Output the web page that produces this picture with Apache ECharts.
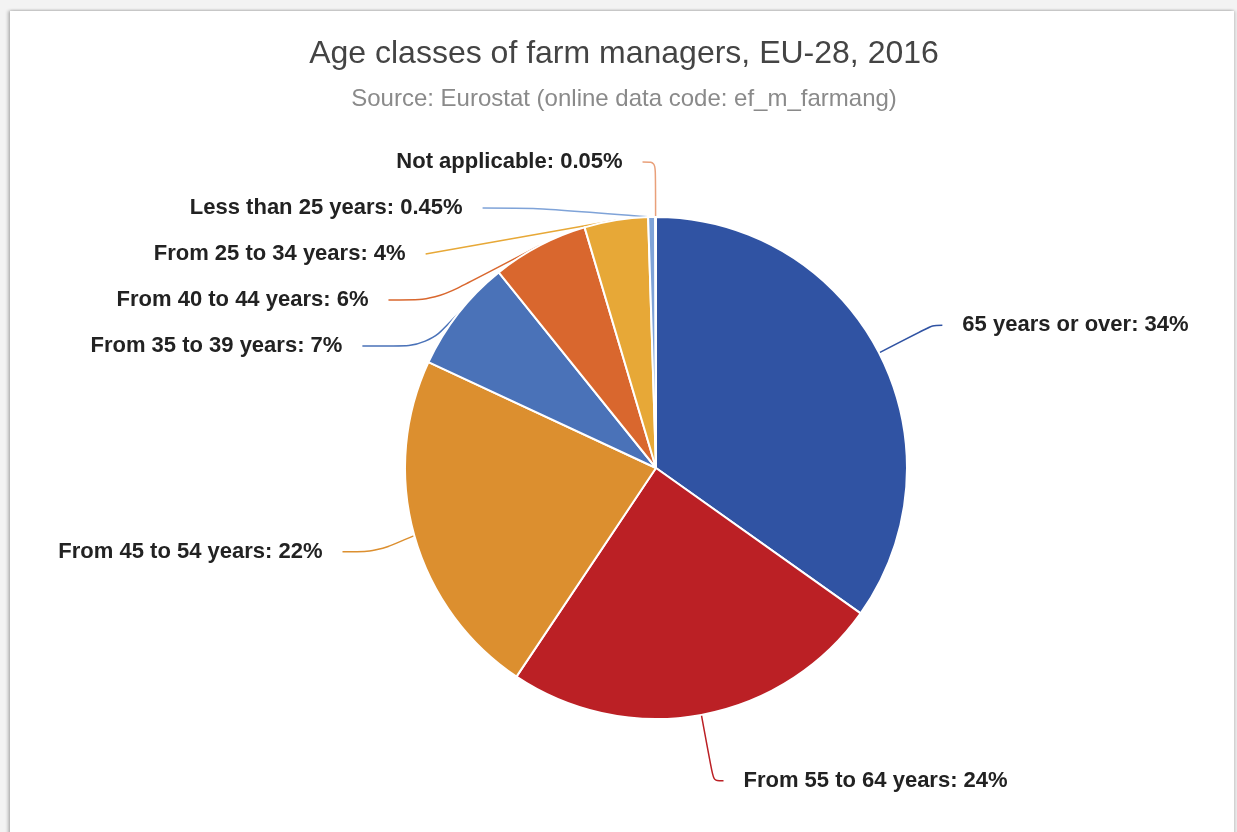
<!DOCTYPE html>
<html>
<head>
<meta charset="utf-8">
<script src="https://cdn.jsdelivr.net/npm/echarts@6/dist/echarts.min.js"></script>
<style>
  html, body { margin: 0; padding: 0; background: #f3f3f3; }
  #card {
    position: absolute; left: 10px; top: 11px; width: 1224px; height: 840px;
    background: #fff; box-shadow: -2px 0 3px rgba(0,0,0,0.25), 0 -1px 2px rgba(0,0,0,0.08), 2px 0 3px rgba(0,0,0,0.12);
  }
  #chart { position: absolute; left: 0; top: 0; width: 1237px; height: 832px; }
</style>
</head>
<body>
<div id="card"></div>
<div id="chart"></div>
<script>
const ageClasses = [
  '65 years or over',
  'From 55 to 64 years',
  'From 45 to 54 years',
  'From 35 to 39 years',
  'From 40 to 44 years',
  'From 25 to 34 years',
  'Less than 25 years',
  'Not applicable',
]
// slice sizes (%)
const shares = [34.9, 24.6, 22.6, 7.3, 6.2, 4.1, 0.45, 0.05]
// percentages as printed on the labels
const shareLabels = ['34%', '24%', '22%', '7%', '6%', '4%', '0.45%', '0.05%']
const colors = ['#3053a3', '#bb2025', '#dc8f2f', '#4a72b8', '#d9672e', '#e7a837', '#7fa3d8', '#e9a07a']

// leader line lengths per slice [length, length2]
const leaders = [[60, 10], [67, 10], [60, 34], [20, 65], [15, 65], [5, 67], [10, 55], [55, 13]]

const chart = echarts.init(document.getElementById('chart'))

const options = {
  backgroundColor: 'transparent',
  title: {
    text: 'Age classes of farm managers, EU-28, 2016',
    subtext: 'Source: Eurostat (online data code: ef_m_farmang)',
    left: 619,
    textAlign: 'center',
    top: 33,
    itemGap: 17,
    textStyle: { fontFamily: 'Liberation Sans', fontSize: 32, fontWeight: 'normal', color: '#444' },
    subtextStyle: { fontFamily: 'Liberation Sans', fontSize: 24, color: '#8a8a8a' },
  },
  series: [
    {
      type: 'pie',
      center: [656, 468],
      radius: 251,
      startAngle: 90,
      clockwise: true,
      avoidLabelOverlap: true,
      itemStyle: { borderColor: '#fff', borderWidth: 2 },
      label: {
        show: true,
        formatter: p => p.name + ': ' + shareLabels[p.dataIndex],
        fontFamily: 'Liberation Sans',
        fontSize: 22,
        lineHeight: 44,
        fontWeight: 'bold',
        color: '#222',
        distanceToLabelLine: 20,
      },
      labelLine: {
        show: true,
        smooth: 0.3,
        lineStyle: { width: 1.5 },
      },
      data: ageClasses.map((n, i) => ({
        name: n,
        value: shares[i],
        itemStyle: { color: colors[i] },
        labelLine: { length: leaders[i][0], length2: leaders[i][1] },
      })),
    },
  ],
}

chart.setOption(options)
</script>
</body>
</html>
